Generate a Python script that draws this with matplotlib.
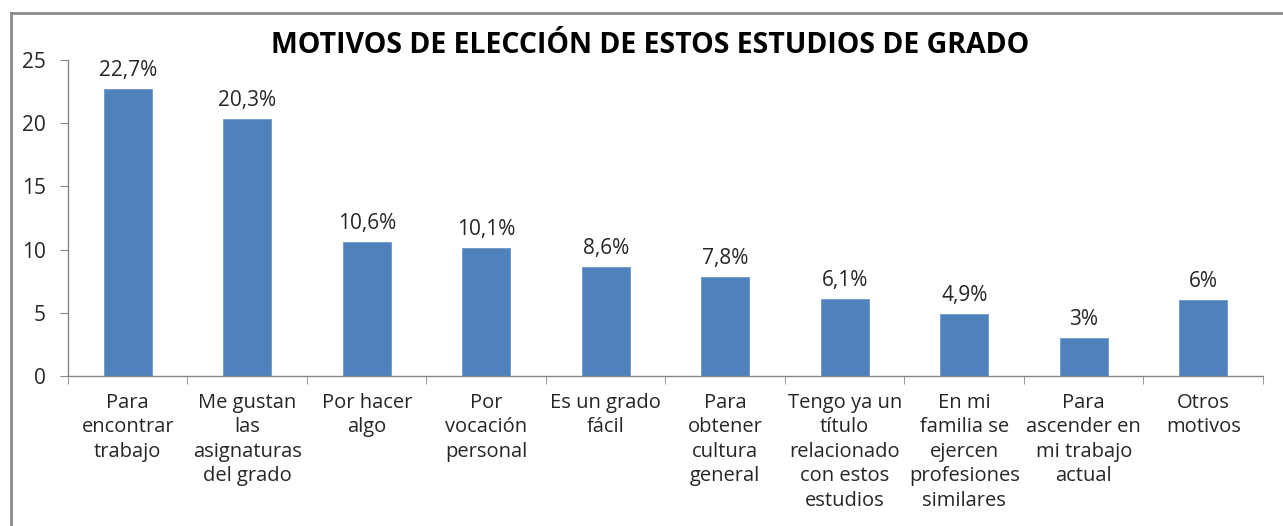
import matplotlib
matplotlib.use("Agg")
import matplotlib.pyplot as plt
from matplotlib.lines import Line2D
import numpy as np

categories = [
    "Para\nencontrar\ntrabajo",
    "Me gustan\nlas\nasignaturas\ndel grado",
    "Por hacer\nalgo",
    "Por\nvocación\npersonal",
    "Es un grado\nfácil",
    "Para\nobtener\ncultura\ngeneral",
    "Tengo ya un\ntítulo\nrelacionado\ncon estos\nestudios",
    "En mi\nfamilia se\nejercen\nprofesiones\nsimilares",
    "Para\nascender en\nmi trabajo\nactual",
    "Otros\nmotivos",
]
values = [22.7, 20.3, 10.6, 10.1, 8.6, 7.8, 6.1, 4.9, 3, 6]
value_labels = ["22,7%", "20,3%", "10,6%", "10,1%", "8,6%", "7,8%", "6,1%", "4,9%", "3%", "6%"]
y_ticks = [0, 5, 10, 15, 20, 25]

plt.rcParams["font.family"] = ["Open Sans", "DejaVu Sans"]
text_color = "#262626"
axis_color = "#868686"

fig = plt.figure(figsize=(12.83, 5.26), dpi=100)
ax = fig.add_axes([0.053, 0.2852, 0.9314, 0.6008])

x = np.arange(len(categories))
ax.bar(x, values, width=0.4, color="#4F81BD", edgecolor="#6d97c9", linewidth=0.6)

for xi, v, lab in zip(x, values, value_labels):
    ax.text(xi, v + 0.65, lab, ha="center", va="bottom", fontsize=15, color=text_color)

ax.set_xlim(-0.5, len(categories) - 0.5)
ax.set_ylim(0, 25)
ax.set_yticks(y_ticks)
ax.set_xticks(x)
ax.set_xticklabels(categories, fontsize=14.5, color=text_color, linespacing=1.3, va="top")
ax.set_xticks(np.arange(-0.5, len(categories)), minor=True)
ax.tick_params(axis="x", which="major", length=0, pad=12)
ax.tick_params(axis="x", which="minor", length=6, color=axis_color, direction="out")
ax.tick_params(axis="y", length=6, color=axis_color, labelsize=15, labelcolor=text_color, pad=10)

for side in ["top", "right"]:
    ax.spines[side].set_visible(False)
for side in ["left", "bottom"]:
    ax.spines[side].set_color(axis_color)
    ax.spines[side].set_linewidth(1)

fig.text(0.507, 0.914, "MOTIVOS DE ELECCIÓN DE ESTOS ESTUDIOS DE GRADO",
         ha="center", va="center", fontsize=20.5, fontweight="bold", color="black")

# outer frame (only top and left edges visible)
fig.add_artist(Line2D([11 / 1283, 1.0], [1 - 13 / 526, 1 - 13 / 526],
                      transform=fig.transFigure, color="#8a8a8a", linewidth=2))
fig.add_artist(Line2D([11 / 1283, 11 / 1283], [0, 1 - 13 / 526],
                      transform=fig.transFigure, color="#8a8a8a", linewidth=2))

fig.savefig("out.png", dpi=100)
